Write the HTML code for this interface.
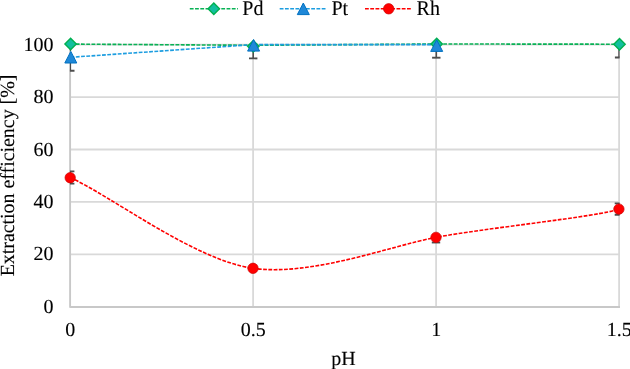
<!DOCTYPE html>
<html><head><meta charset="utf-8"><title>Extraction efficiency vs pH</title><style>
html,body{margin:0;padding:0;background:#fff;width:630px;height:369px;overflow:hidden}
svg{display:block;will-change:transform}
text{font-family:"Liberation Serif", serif;text-rendering:geometricPrecision;stroke:#000;stroke-width:0.12px}
</style></head><body>
<svg width="630" height="369" viewBox="0 0 630 369" font-family="Liberation Serif, serif" font-size="20" fill="#000">
<defs><clipPath id="pa"><rect x="69.90" y="0" width="549.70" height="310"/></clipPath></defs>
<line x1="70.10" y1="254.36" x2="619.10" y2="254.36" stroke="#d9d9d9" stroke-width="1.8"/>
<line x1="70.10" y1="201.92" x2="619.10" y2="201.92" stroke="#d9d9d9" stroke-width="1.8"/>
<line x1="70.10" y1="149.48" x2="619.10" y2="149.48" stroke="#d9d9d9" stroke-width="1.8"/>
<line x1="70.10" y1="97.04" x2="619.10" y2="97.04" stroke="#d9d9d9" stroke-width="1.8"/>
<line x1="70.10" y1="44.60" x2="619.10" y2="44.60" stroke="#d9d9d9" stroke-width="1.8"/>
<line x1="253.10" y1="44.60" x2="253.10" y2="306.80" stroke="#d9d9d9" stroke-width="1.8"/>
<line x1="436.10" y1="44.60" x2="436.10" y2="306.80" stroke="#d9d9d9" stroke-width="1.8"/>
<line x1="619.10" y1="44.60" x2="619.10" y2="306.80" stroke="#d9d9d9" stroke-width="1.8"/>
<line x1="70.10" y1="44.60" x2="70.10" y2="307.80" stroke="#c8c8c8" stroke-width="1.9"/>
<line x1="70.10" y1="307.0" x2="620.00" y2="307.0" stroke="#c8c8c8" stroke-width="1.9"/>
<g clip-path="url(#pa)"><line x1="70.30" y1="57.20" x2="70.30" y2="70.80" stroke="#4d4d4d" stroke-width="1.6"/><line x1="66.10" y1="70.80" x2="74.50" y2="70.80" stroke="#4d4d4d" stroke-width="1.9"/><line x1="70.30" y1="44.00" x2="70.30" y2="51.00" stroke="#4d4d4d" stroke-width="1.6"/><line x1="253.20" y1="45.30" x2="253.20" y2="58.40" stroke="#4d4d4d" stroke-width="1.6"/><line x1="249.00" y1="58.40" x2="257.40" y2="58.40" stroke="#4d4d4d" stroke-width="1.9"/><line x1="436.30" y1="45.60" x2="436.30" y2="57.70" stroke="#4d4d4d" stroke-width="1.6"/><line x1="432.10" y1="57.70" x2="440.50" y2="57.70" stroke="#4d4d4d" stroke-width="1.9"/><line x1="619.10" y1="44.20" x2="619.10" y2="57.50" stroke="#4d4d4d" stroke-width="1.6"/><line x1="614.90" y1="57.50" x2="623.30" y2="57.50" stroke="#4d4d4d" stroke-width="1.9"/><line x1="70.20" y1="177.70" x2="70.20" y2="171.40" stroke="#4d4d4d" stroke-width="1.6"/><line x1="66.00" y1="171.40" x2="74.40" y2="171.40" stroke="#4d4d4d" stroke-width="1.9"/><line x1="70.20" y1="177.70" x2="70.20" y2="183.60" stroke="#4d4d4d" stroke-width="1.6"/><line x1="66.00" y1="183.60" x2="74.40" y2="183.60" stroke="#4d4d4d" stroke-width="1.9"/><line x1="618.90" y1="209.10" x2="618.90" y2="203.40" stroke="#4d4d4d" stroke-width="1.6"/><line x1="614.70" y1="203.40" x2="623.10" y2="203.40" stroke="#4d4d4d" stroke-width="1.9"/><line x1="618.90" y1="209.10" x2="618.90" y2="214.70" stroke="#4d4d4d" stroke-width="1.6"/><line x1="614.70" y1="214.70" x2="623.10" y2="214.70" stroke="#4d4d4d" stroke-width="1.9"/><line x1="436.00" y1="237.35" x2="436.00" y2="242.50" stroke="#4d4d4d" stroke-width="1.6"/><line x1="431.80" y1="242.50" x2="440.20" y2="242.50" stroke="#4d4d4d" stroke-width="1.9"/></g>
<path d="M70.50,44.10 L253.20,45.30 L436.40,44.00 L619.30,44.20" fill="none" stroke="#08b255" stroke-width="1.6" stroke-dasharray="3.8 1.45"/>
<path d="M70.60,57.30 L253.30,44.60 L436.40,44.60" fill="none" stroke="#1c9de0" stroke-width="1.6" stroke-dasharray="3.8 1.45"/>
<path d="M70.20,177.70 C109.10,194.47 194.23,260.13 253.00,268.30 C311.77,276.47 389.67,246.22 436.00,237.35 C482.33,228.48 600.10,216.40 618.90,209.10" fill="none" stroke="#ff0000" stroke-width="1.6" stroke-dasharray="3.8 1.45"/>
<path d="M70.60,38.30 L76.30,44.00 L70.60,49.70 L64.90,44.00 Z" fill="#12bf9e" stroke="#00b050" stroke-width="1.4"/>
<path d="M253.30,40.50 L259.00,46.20 L253.30,51.90 L247.60,46.20 Z" fill="#12bf9e" stroke="#00b050" stroke-width="1.4"/>
<path d="M436.70,38.20 L442.40,43.90 L436.70,49.60 L431.00,43.90 Z" fill="#12bf9e" stroke="#00b050" stroke-width="1.4"/>
<path d="M619.50,38.50 L625.20,44.20 L619.50,49.90 L613.80,44.20 Z" fill="#12bf9e" stroke="#00b050" stroke-width="1.4"/>
<path d="M70.80,51.40 L76.80,63.00 L64.80,63.00 Z" fill="#1f88d8" stroke="#0070c0" stroke-width="1"/>
<path d="M253.60,39.50 L259.60,51.10 L247.60,51.10 Z" fill="#1f88d8" stroke="#0070c0" stroke-width="1"/>
<path d="M436.70,39.80 L442.70,51.40 L430.70,51.40 Z" fill="#1f88d8" stroke="#0070c0" stroke-width="1"/>
<circle cx="70.20" cy="177.70" r="5.2" fill="#ff0000" stroke="#cc0000" stroke-width="0.7"/>
<circle cx="253.00" cy="268.30" r="5.2" fill="#ff0000" stroke="#cc0000" stroke-width="0.7"/>
<circle cx="436.00" cy="237.35" r="5.2" fill="#ff0000" stroke="#cc0000" stroke-width="0.7"/>
<circle cx="618.90" cy="209.10" r="5.2" fill="#ff0000" stroke="#cc0000" stroke-width="0.7"/>
<text x="53.6" y="312.90" text-anchor="end">0</text>
<text x="53.6" y="260.46" text-anchor="end">20</text>
<text x="53.6" y="208.02" text-anchor="end">40</text>
<text x="53.6" y="155.58" text-anchor="end">60</text>
<text x="53.6" y="103.14" text-anchor="end">80</text>
<text x="53.6" y="50.70" text-anchor="end">100</text>
<text x="70.30" y="336" text-anchor="middle">0</text>
<text x="253.30" y="336" text-anchor="middle">0.5</text>
<text x="436.30" y="336" text-anchor="middle">1</text>
<text x="619.30" y="336" text-anchor="middle">1.5</text>
<text x="343.5" y="365" text-anchor="middle">pH</text>
<text transform="translate(13.8,276.3) rotate(-90) scale(0.994,1)">Extraction efficiency [%]</text>
<line x1="189.8" y1="8.8" x2="237.9" y2="8.8" stroke="#08b255" stroke-width="1.6" stroke-dasharray="3.8 1.45"/><path d="M213.80,3.10 L219.50,8.80 L213.80,14.50 L208.10,8.80 Z" fill="#12bf9e" stroke="#00b050" stroke-width="1.4"/><text transform="translate(242.3,14.5) scale(1,1.05)">Pd</text>
<line x1="279.7" y1="8.8" x2="326.4" y2="8.8" stroke="#1c9de0" stroke-width="1.6" stroke-dasharray="3.8 1.45"/><path d="M303.30,3.00 L309.30,14.60 L297.30,14.60 Z" fill="#1f88d8" stroke="#0070c0" stroke-width="1"/><text transform="translate(331.5,14.5) scale(1,1.05)">Pt</text>
<line x1="365" y1="8.8" x2="412" y2="8.8" stroke="#ff0000" stroke-width="1.6" stroke-dasharray="3.8 1.45"/><circle cx="388.70" cy="8.80" r="5.2" fill="#ff0000" stroke="#cc0000" stroke-width="0.7"/><text transform="translate(416.6,14.5) scale(1,1.05)">Rh</text>
</svg>
</body></html>
